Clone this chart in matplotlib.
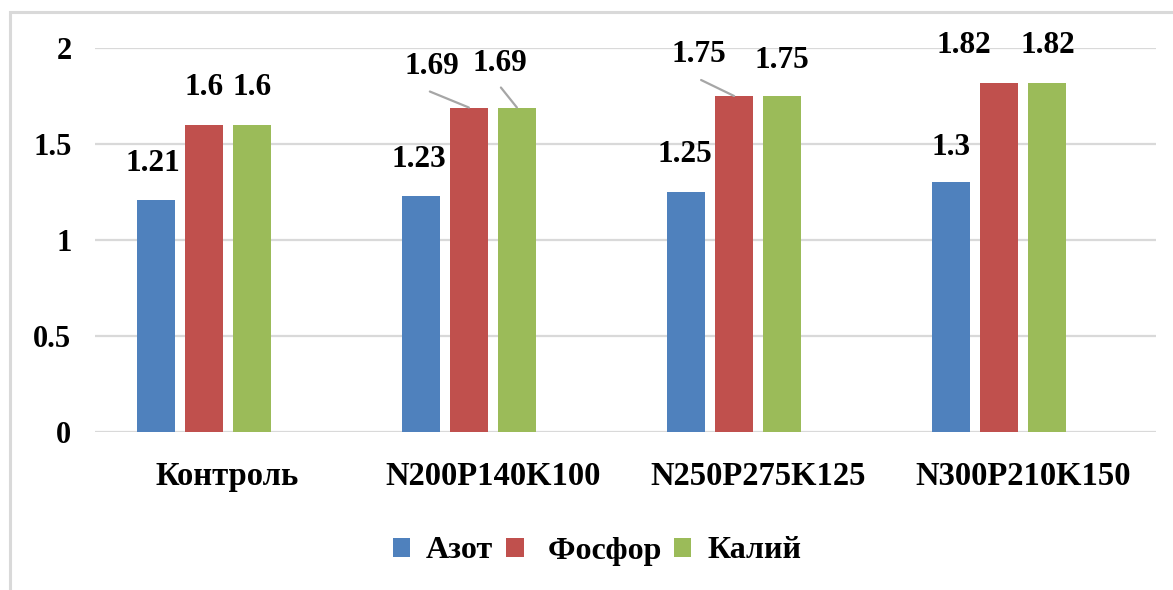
import matplotlib
matplotlib.use("Agg")
import matplotlib.pyplot as plt
from matplotlib.patches import Rectangle

categories = ["Контроль", "N200P140K100", "N250P275K125", "N300P210K150"]
azot = [1.21, 1.23, 1.25, 1.3]
fosfor = [1.6, 1.69, 1.75, 1.82]
kaliy = [1.6, 1.69, 1.75, 1.82]
series_names = ["Азот", " Фосфор", "Калий"]
yticks = [0, 0.5, 1, 1.5, 2]

colors = ["#4F81BD", "#C0504D", "#9BBB59"]

plt.rcParams['font.family'] = ['Liberation Serif', 'DejaVu Serif']
plt.rcParams['font.weight'] = 'bold'

fig = plt.figure(figsize=(11.73, 5.9), dpi=100)
ax = fig.add_axes([95 / 1173, 1 - 432 / 590, (1156 - 95) / 1173, 384 / 590])

# outer chart border (only left and top visible in the picture)
fig.patches.append(Rectangle((10 / 1173, -0.05), 1.1, 1 - 12 / 590 + 0.05,
                             transform=fig.transFigure, fill=False,
                             edgecolor="#D9D9D9", linewidth=2.2, zorder=0))

step = 48 / 265
width = 38 / 265
x = range(len(categories))

# label nudges in pixels (dx, dy from bar top), per series
nudges = [
    [(-3, 36), (-2, 36), (-1, 37), (0, 35)],
    [(0, 37), (-37, 41), (-35, 41), (-35, 37)],
    [(0, 37), (-17, 44), (0, 35), (0, 37)],
]
# leader line start points (pixel offset from bar top)
leaders = {(1, 1): (-39, 16), (2, 1): (-16, 20), (1, 2): (-33, 16)}

all_series = [azot, fosfor, kaliy]
for s, vals in enumerate(all_series):
    xs = [i + (s - 1.5) * step for i in x]
    ax.bar(xs, vals, width=width, color=colors[s], label=series_names[s], zorder=3)
    for i, v in enumerate(vals):
        dx, dy = nudges[s][i]
        ax.annotate(f"{v:g}", (xs[i], v), xytext=(dx, dy), textcoords="offset pixels",
                    ha="center", va="center", fontsize=22.5, fontweight="bold",
                    color="black", zorder=5)
        if (s, i) in leaders:
            ax.annotate("", (xs[i], v), xytext=leaders[(s, i)], textcoords="offset pixels",
                        arrowprops=dict(arrowstyle="-", color="#A6A6A6", lw=1.6,
                                        shrinkA=0, shrinkB=0), zorder=4)

ax.set_xlim(-0.5, 3.5)
ax.set_ylim(0, 2)
ax.set_yticks(yticks)
ax.set_yticklabels([f"{t:g}" for t in yticks], fontsize=22, fontweight="bold")
ax.set_xticks(list(x))
ax.set_xticklabels(categories, fontsize=23.5, fontweight="bold")
ax.tick_params(axis="y", length=0, pad=17)
ax.tick_params(axis="x", length=0, pad=21)
ax.yaxis.grid(True, color="#D9D9D9", linewidth=1.6, zorder=0)
ax.set_axisbelow(True)
for sp in ax.spines.values():
    sp.set_visible(False)

fig.legend(loc="center", bbox_to_anchor=(597 / 1173, 1 - 551 / 590), ncol=3,
           frameon=False, handlelength=0.55, handleheight=0.55,
           handletextpad=0.5, columnspacing=0.4,
           prop={"weight": "bold", "size": 23})

fig.savefig("out.png", dpi=100)
